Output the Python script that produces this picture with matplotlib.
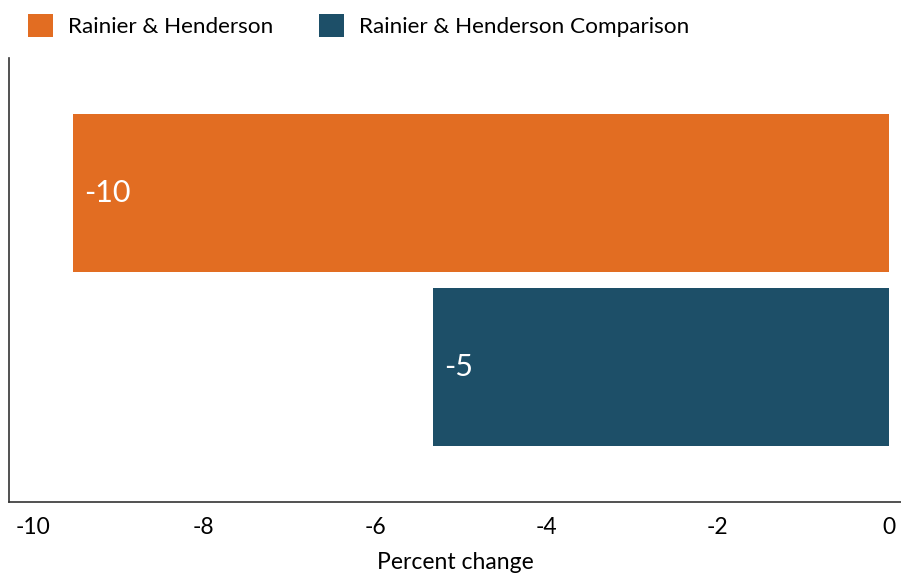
import matplotlib.pyplot as plt
from matplotlib.patches import Patch

plt.rcParams['font.family'] = ['Lato', 'DejaVu Sans']

series = ["Rainier & Henderson", "Rainier & Henderson Comparison"]
values = [-9.53, -5.33]
colors = ["#E26D22", "#1D4F68"]
xticks = [-10, -8, -6, -4, -2, 0]

fig = plt.figure(figsize=(9.01, 5.77), dpi=100)
ax = fig.add_axes([0.0105, 0.130, 0.9895, 0.7695])

ypos = [1, 0]
ax.barh(ypos, values, height=0.908, color=colors)

# value labels inside the left end of each bar
for y, v in zip(ypos, values):
    ax.annotate(f"{v:.0f}", xy=(v, y), xytext=(8, 0), textcoords="offset points",
                ha="left", va="center", color="white", fontsize=22)

ax.set_xlim(-10.27, 0.14)
ax.set_ylim(-0.776, 1.776)
ax.set_xticks(xticks)
ax.set_xticklabels([str(t) for t in xticks])
ax.set_yticks([])
ax.tick_params(axis="x", length=0, labelsize=16.5, pad=11)
ax.set_xlabel("Percent change", fontsize=16.5, labelpad=10)

for side in ["top", "right"]:
    ax.spines[side].set_visible(False)
for side in ["left", "bottom"]:
    ax.spines[side].set_color("#333333")
    ax.spines[side].set_linewidth(1.2)

handles = [Patch(facecolor=c, label=s) for c, s in zip(colors, series)]
fig.legend(handles=handles, loc="upper left", bbox_to_anchor=(28 / 901, 1 - 14 / 577),
           ncol=2, frameon=False, fontsize=16.2, borderpad=0, borderaxespad=0,
           handlelength=1.1, handleheight=1.2, handletextpad=0.7, columnspacing=2.0)

fig.savefig("out.png", dpi=100)
